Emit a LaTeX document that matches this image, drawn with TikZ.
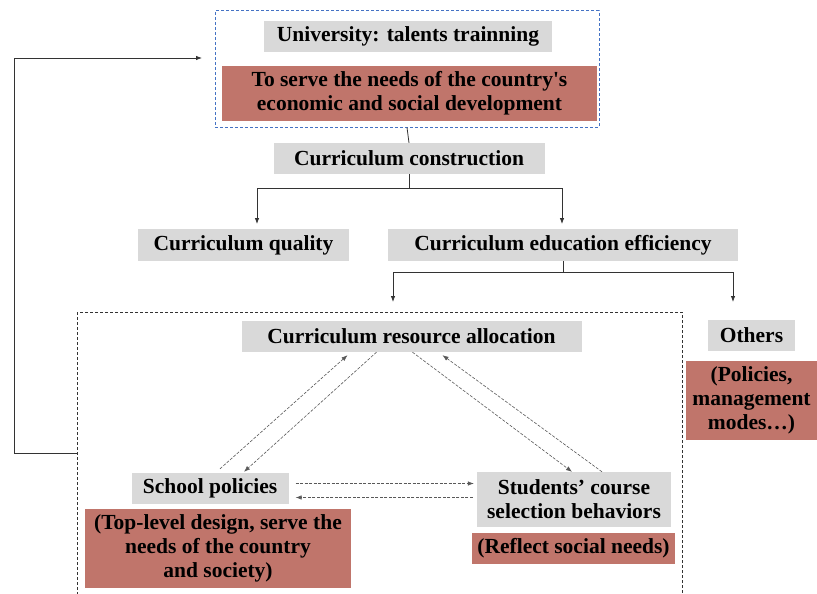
\documentclass[tikz,border=0pt]{standalone}
\usepackage{fontspec}
\setmainfont{Liberation Serif}
\usetikzlibrary{arrows.meta}

\definecolor{boxgray}{RGB}{217,217,217}
\definecolor{boxred}{RGB}{192,117,107}
\definecolor{frameblue}{RGB}{68,114,196}

\begin{document}
\begin{tikzpicture}[x=1pt,y=-1pt,
	every node/.style={black,font=\fontsize{21.5}{24}\selectfont\bfseries,inner sep=0pt,align=center},
	graybox/.style={fill=boxgray},
	redbox/.style={fill=boxred},
	link/.style={draw=black!80,line width=0.8pt,-{Latex[length=6pt,width=4.5pt]}},
	flow/.style={draw=black!65,line width=0.6pt,dash pattern=on 3pt off 1.5pt,-{Latex[length=6pt,width=4.5pt]}}]
	\useasboundingbox (0,0) rectangle (817,594);

	\coordinate (B1) at (409,188);
	\coordinate (Q) at (257,224);
	\coordinate (E) at (562,224);
	\coordinate (B2) at (563,272);
	\coordinate (R) at (393,302);
	\coordinate (S) at (733,302);
	\coordinate (F0) at (77,453);
	\coordinate (F1) at (14,58);
	\coordinate (F2) at (202,58);

	\node[draw=frameblue,line width=1pt,dash pattern=on 3pt off 2pt,minimum width=384pt,minimum height=116pt] (top) at (407,69) {};
	\node[graybox,minimum width=288pt,minimum height=31pt] (univ) at (408,36.5) {University: talents trainning};
	\node[redbox,minimum width=375pt,minimum height=55pt] (serve) at (409.5,93.5) {To serve the needs of the country\textquotesingle s\\economic and social development};

	\node[graybox,minimum width=271pt,minimum height=31pt] (cons) at (409,158.5) {Curriculum construction};
	\node[graybox,minimum width=211pt,minimum height=32pt] (qual) at (243.5,245) {Curriculum quality};
	\node[graybox,minimum width=350pt,minimum height=32pt] (effi) at (563,245) {Curriculum education efficiency};

	\draw[black!80,line width=0.8pt,dash pattern=on 3pt off 2pt] (77,312) rectangle (682,620);

	\node[graybox,minimum width=340pt,minimum height=31pt] (cra) at (411.5,336.5) {Curriculum resource allocation};
	\node[graybox,minimum width=87pt,minimum height=31pt] (others) at (751.5,335.5) {Others};
	\node[redbox,minimum width=131pt,minimum height=79pt] (othnote) at (751.5,400.5) {(Policies,\\management\\modes…)};

	\node[graybox,minimum width=157pt,minimum height=31pt] (school) at (210,488.5) {School policies};
	\node[redbox,minimum width=266pt,minimum height=79pt] (schnote) at (218,548.5) {(Top-level design, serve the\\needs of the country\\and society)};
	\node[graybox,minimum width=194pt,minimum height=55pt] (stud) at (574,499.5) {Students’ course\\selection behaviors};
	\node[redbox,minimum width=203pt,minimum height=31pt] (studnote) at (573.5,548.5) {(Reflect social needs)};

	\draw[black!80,line width=0.8pt] (top.south) -- (cons.north);
	\draw[black!80,line width=0.8pt] (cons.south) -- (B1);
	\draw[link] (B1) -| (Q);
	\draw[link] (B1) -| (E);
	\draw[black!80,line width=0.8pt] (effi.south) -- (B2);
	\draw[link] (B2) -| (R);
	\draw[link] (B2) -| (S);

	\draw[flow] ([xshift=10pt,yshift=4pt]school.north) -- ([xshift=-64pt,yshift=-3pt]cra.south);
	\draw[flow] ([xshift=-35pt]cra.south) -- ([xshift=34pt,yshift=1pt]school.north);
	\draw[flow] ([xshift=1pt]cra.south) -- ([xshift=-2pt]stud.north);
	\draw[flow] ([xshift=28pt]stud.north) -- ([xshift=31pt,yshift=-3pt]cra.south);
	\draw[flow] ([xshift=7pt,yshift=5pt]school.east) -- ([xshift=-3pt,yshift=16pt]stud.west);
	\draw[flow] ([xshift=-4pt,yshift=2pt]stud.west) -- ([xshift=7pt,yshift=-9pt]school.east);

	\draw[link] (F0) -| (F1) -- (F2);
\end{tikzpicture}
\end{document}
